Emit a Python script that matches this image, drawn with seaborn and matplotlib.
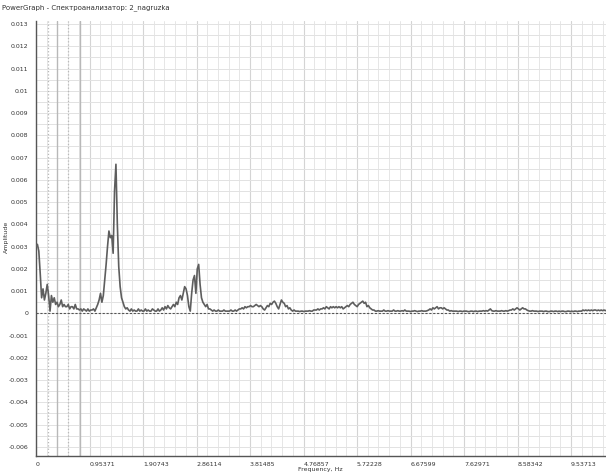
import numpy as np
import pandas as pd
import matplotlib
matplotlib.use("Agg")
import matplotlib.pyplot as plt
from matplotlib import font_manager as fm
from matplotlib.ticker import MultipleLocator
import seaborn as sns

# ---------------- data ----------------
FREQ_STEP = 0.025          # Hz per spectrum bin
AMP_SCALE = 1e-4           # amplitudes below are given in units of 1e-4
amp_e4 = [
    # 0.000 - 0.475
    30, 31, 28, 18, 7, 11, 6, 9, 13, 8, 1, 8, 5, 7, 4, 5, 3, 4, 6, 3,
    # 0.500 - 0.975
    4, 3, 3, 4, 2, 3, 3, 2, 4, 2, 2, 1.5, 2, 1, 2, 1.5, 1, 2, 1, 1.5,
    # 1.000 - 1.475
    1.5, 2, 1, 2.5, 4, 6, 9, 5, 8, 15, 22, 30, 37, 34, 35, 27, 55, 67, 40, 21,
    # 1.500 - 1.975
    12, 7, 5, 3, 2, 2.5, 1.5, 1, 2, 1, 1.5, 1, 1, 2, 1, 1.5, 1, 1, 2, 1,
    # 2.000 - 2.475
    1.5, 1, 1, 2, 1.5, 1, 1, 2, 1, 1.5, 2.5, 1.5, 3, 2, 3.5, 2.5, 2, 3, 4, 3,
    # 2.500 - 2.975
    5, 4, 7, 8, 6, 9, 12, 11, 8, 3, 1, 9, 15, 17, 9, 20, 22, 13, 7, 5,
    # 3.000 - 3.475
    4, 3, 4, 2, 2, 1.5, 1, 1.5, 1, 1, 1.5, 1, 1, 1, 1.5, 1, 1, 1, 1, 1.5,
    # 3.500 - 3.975
    1, 1, 1.5, 1, 1.5, 2, 2, 2.5, 2, 3, 2.5, 3, 3, 3.5, 3, 3, 3.5, 4, 3.5, 3,
    # 4.000 - 4.475
    3.5, 3, 2, 1.5, 2.5, 3.5, 3, 4.5, 4, 5, 5.5, 4.5, 3, 2, 4, 6, 5, 4.5, 3, 3.5,
    # 4.500 - 4.975
    2, 2.5, 1.5, 1, 1.5, 1, 1, 1, 0.8, 1, 1, 0.8, 1, 1, 1, 1.2, 1, 1, 1.5, 1.5,
    # 5.000 - 5.475
    1.5, 2, 1.5, 2, 2, 2.5, 2, 3, 2.5, 2, 3, 2.5, 3, 2.5, 3, 2.5, 3, 2.5, 3, 2,
    # 5.500 - 5.975
    2.5, 3, 3.5, 3, 4, 4.5, 5, 4, 3.5, 3, 4, 4.5, 5, 5.5, 4.5, 5, 3, 3.5, 2.5, 2,
    # 6.000 - 6.475
    1.5, 1.5, 1, 1, 1.2, 1, 1, 1, 1.5, 1, 1, 1.2, 1, 1, 1, 1.5, 1, 1, 1.2, 1,
    # 6.500 - 6.975
    1, 1.2, 1, 1.5, 1, 1, 1, 0.8, 1, 1, 1.2, 1, 0.8, 1, 1, 1.2, 1, 1, 1, 1.2,
    # 7.000 - 7.475
    1.5, 2, 1.5, 2.5, 2, 2.5, 3, 2, 2.5, 2.5, 2, 2.5, 2, 1.5, 1.5, 1, 1.2, 1, 1, 1,
    # 7.500 - 7.975
    1, 0.8, 1, 1, 0.8, 1, 1, 1, 0.8, 0.8, 1, 1, 0.8, 1, 1, 0.8, 1, 1, 1, 1.2,
    # 8.000 - 8.475
    1, 1.2, 1, 1.5, 2, 1.2, 1, 1, 1.2, 1, 1, 1, 1.2, 1, 1, 1.2, 1, 1.2, 1.5, 1.5,
    # 8.500 - 8.975
    2, 1.5, 2, 2.5, 2, 1.5, 2, 2.5, 2, 2, 1.5, 1.2, 1, 1, 1.2, 1, 1, 1, 0.8, 1,
    # 9.000 - 9.475
    1, 1, 0.8, 1, 1, 0.8, 0.8, 1, 1, 0.8, 1, 1, 0.8, 1, 0.8, 1, 1, 0.8, 0.8, 1,
    # 9.500 - 9.975
    1, 0.8, 1, 0.8, 1, 1, 0.8, 1, 1, 1, 1.5, 1.2, 1.5, 1.2, 1.5, 1.2, 1.5, 1.2, 1.5, 1.5,
    # 10.000 - 10.175
    1.2, 1.5, 1.2, 1.5, 1.2, 1.5, 1.2, 1.5,
]

x_tick_values = [0, 0.953713, 1.907426, 2.861139, 3.814852, 4.768565,
                 5.722278, 6.675991, 7.629704, 8.583417, 9.53713]
x_tick_labels = ["0", "0.95371", "1.90743", "2.86114", "3.81485", "4.76857",
                 "5.72228", "6.67599", "7.62971", "8.58342", "9.53713"]
y_tick_values = [0.013, 0.012, 0.011, 0.01, 0.009, 0.008, 0.007, 0.006, 0.005,
                 0.004, 0.003, 0.002, 0.001, 0, -0.001, -0.002, -0.003, -0.004,
                 -0.005, -0.006]
y_tick_labels = ["0.013", "0.012", "0.011", "0.01", "0.009", "0.008", "0.007",
                 "0.006", "0.005", "0.004", "0.003", "0.002", "0.001", "0",
                 "-0.001", "-0.002", "-0.003", "-0.004", "-0.005", "-0.006"]

marker_freqs = [0.214, 0.374, 0.570, 0.784]
marker_styles = [":", "-", ":", "-"]

title_text = "PowerGraph - Спектроанализатор: 2_nagruzka"
x_label = "Frequency, Hz"
y_label = "Amplitude"

df = pd.DataFrame({
    "freq": np.arange(len(amp_e4)) * FREQ_STEP,
    "amp": np.array(amp_e4, dtype=float) * AMP_SCALE,
})

# ---------------- styling ----------------
sns.set_style("white")
names = {f.name for f in fm.fontManager.ttflist}
main_font = "Liberation Sans Narrow" if "Liberation Sans Narrow" in names else "DejaVu Sans"
plt.rcParams["font.family"] = [main_font, "DejaVu Sans"]

fig = plt.figure(figsize=(6.06, 4.74), dpi=100)
W, H = 606, 474
ax_left, ax_right, ax_top, ax_bottom = 36, 606, 20.5, 456
ax = fig.add_axes([ax_left / W, 1 - ax_bottom / H,
                   (ax_right - ax_left) / W, (ax_bottom - ax_top) / H])

ax.set_xlim(0, 10.161)
ax.set_ylim(-0.00641, 0.01316)

# grid
for v in np.arange(0, 10.2, 0.953713 / 5):
    ax.axvline(v, color="#e6e6e6", lw=0.7, zorder=0)
for v in x_tick_values:
    ax.axvline(v, color="#d4d4d4", lw=0.8, zorder=0)
for v in np.arange(-0.0065, 0.0135, 0.0005):
    ax.axhline(v, color="#e2e2e2", lw=0.7, zorder=0)

for f, ls in zip(marker_freqs, marker_styles):
    ax.axvline(f, color="#b8b8b8", lw=1.0 if ls == "-" else 0.9, ls=ls, zorder=0.5)

ax.axhline(0, color="#555555", lw=0.8, ls=(0, (2, 1.5)), zorder=1)

sns.lineplot(data=df, x="freq", y="amp", ax=ax, color="#5e5e5e",
             linewidth=1.2, estimator=None, zorder=3)

ax.set_xlabel("")
ax.set_ylabel("")
ax.set_xticks(x_tick_values)
ax.set_xticklabels(x_tick_labels, ha="left")
ax.set_yticks(y_tick_values)
ax.set_yticklabels(y_tick_labels)
ax.yaxis.set_minor_locator(MultipleLocator(0.0001))
ax.xaxis.set_minor_locator(MultipleLocator(0.953713 / 5))

ax.tick_params(axis="both", which="major", labelsize=4.5, colors="#444444",
               labelcolor="#333333", width=0.8)
ax.tick_params(axis="y", which="major", direction="out", length=4, pad=1.5)
ax.tick_params(axis="x", which="major", direction="inout", length=5, pad=1.5)
ax.tick_params(axis="y", which="minor", direction="in", length=4, width=0.4, color="#999999")
ax.tick_params(axis="x", which="minor", direction="inout", length=3, width=0.5, color="#666666")

for s in ["top", "right"]:
    ax.spines[s].set_visible(False)
for s in ["left", "bottom"]:
    ax.spines[s].set_color("#555555")
    ax.spines[s].set_linewidth(1.0)

fig.text(2 / W, 1 - 8 / H, title_text, fontsize=5, color="#333333",
         ha="left", va="center")
fig.text(6 / W, 1 - 237 / H, y_label, fontsize=4.5, color="#333333",
         rotation=90, ha="center", va="center")
fig.text(320 / W, 1 - 470 / H, x_label, fontsize=4.5, color="#333333",
         ha="center", va="center")

fig.savefig("out.png", dpi=100, facecolor="white")
